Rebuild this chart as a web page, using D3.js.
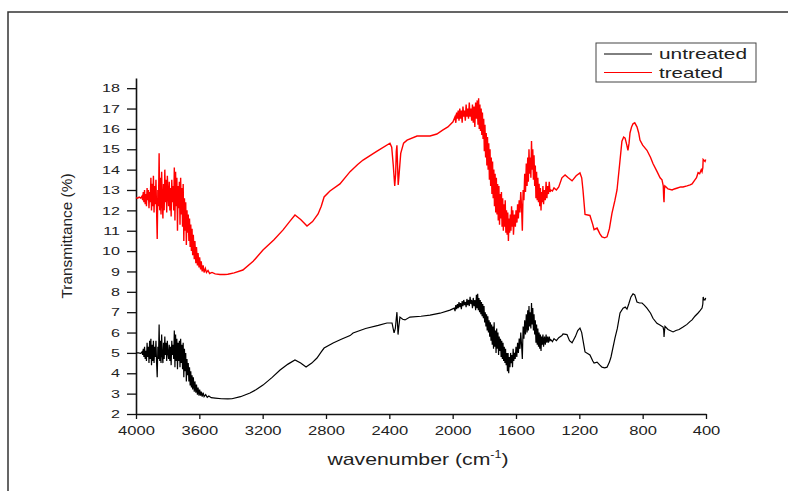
<!DOCTYPE html>
<html>
<head>
<meta charset="utf-8">
<script src="https://cdn.jsdelivr.net/npm/d3@7"></script>
<style>
  body { margin: 0; background: #fff; }
  text { font-family: "Liberation Sans", Arial, sans-serif; fill: #222; }
</style>
</head>
<body>
<svg class="ftir" width="788" height="491"></svg>
<script>
// tick values
const xTicks = [4000, 3600, 3200, 2800, 2400, 2000, 1600, 1200, 800, 400]
const yTicks = [2, 3, 4, 5, 6, 7, 8, 9, 10, 11, 12, 13, 14, 15, 16, 17, 18]
const seriesNames = ["untreated", "treated"]
const seriesColors = ["#000000", "#ff0000"]

// [wavenumber, transmittance]
const treated = [
  [4000,12.62],[3990,12.6],[3980,12.65],[3970,12.6],[3962,12.7],[3958,12.5],[3954,12.9],[3950,12.4],
  [3946,13.0],[3942,12.3],[3938,12.8],[3934,12.2],[3930,13.1],[3926,12.5],[3922,13.0],[3918,12.1],
  [3914,12.9],[3910,12.4],[3906,13.6],[3902,12.0],[3898,13.3],[3894,12.2],[3890,13.7],[3886,11.9],
  [3882,13.2],[3878,12.3],[3874,13.5],[3870,12.0],[3866,10.6],[3862,13.0],[3858,12.2],[3854,14.8],
  [3850,12.0],[3846,13.6],[3842,11.8],[3838,13.9],[3834,12.5],[3830,11.6],[3826,13.3],[3822,12.0],
  [3818,14.0],[3814,12.4],[3810,13.5],[3806,11.9],[3802,13.7],[3798,12.8],[3794,12.2],[3790,13.4],
  [3786,12.0],[3782,13.1],[3778,11.7],[3774,13.5],[3770,12.4],[3766,13.2],[3762,12.0],[3758,14.1],
  [3754,11.5],[3750,13.9],[3746,12.2],[3742,13.6],[3738,11.0],[3734,13.2],[3730,12.1],[3726,13.4],
  [3722,11.3],[3718,13.6],[3714,11.8],[3710,13.1],[3706,11.2],[3702,13.3],[3698,10.5],[3694,12.6],
  [3690,11.0],[3686,12.4],[3682,10.3],[3678,12.0],[3674,10.9],[3670,11.8],[3666,10.5],[3662,11.6],
  [3658,10.2],[3654,11.3],[3650,10.0],[3646,11.1],[3642,9.8],[3638,10.8],[3632,9.6],[3628,10.5],
  [3622,9.4],[3618,10.2],[3612,9.3],[3608,9.9],[3602,9.2],[3598,9.7],[3592,9.1],[3588,9.5],
  [3582,9.0],[3576,9.3],[3570,8.95],[3562,9.15],[3555,8.95],[3545,9.05],[3535,8.9],[3520,8.95],
  [3500,8.88],[3470,8.85],[3440,8.85],[3420,8.86],[3380,8.93],[3325,9.07],[3260,9.5],[3198,10.05],
  [3130,10.55],[3071,11.04],[3030,11.45],[2996,11.77],[2960,11.55],[2920,11.23],[2885,11.45],[2850,11.82],
  [2830,12.2],[2812,12.66],[2775,12.95],[2712,13.3],[2648,13.9],[2600,14.25],[2566,14.47],[2480,14.9],
  [2396,15.3],[2385,15.1],[2375,14.2],[2366,13.2],[2360,13.8],[2356,14.9],[2352,15.2],[2348,14.2],
  [2344,13.25],[2340,13.6],[2334,14.2],[2328,14.8],[2310,15.3],[2288,15.45],[2225,15.65],[2143,15.65],
  [2100,15.75],[2061,15.95],[2030,16.1],[1998,16.35],[1985,16.6],[1980,16.3],[1975,16.8],[1970,16.5],
  [1965,16.9],[1960,16.4],[1955,17.0],[1950,16.5],[1945,16.9],[1940,16.3],[1935,17.1],[1930,16.6],
  [1925,16.9],[1920,16.4],[1915,17.2],[1910,16.6],[1905,17.0],[1900,16.5],[1895,17.3],[1890,16.6],
  [1885,17.0],[1880,16.4],[1875,17.2],[1870,16.3],[1865,17.1],[1860,16.1],[1855,17.3],[1850,16.5],
  [1845,17.4],[1840,16.2],[1836,17.5],[1832,16.0],[1828,17.2],[1824,15.9],[1820,17.0],[1816,15.7],
  [1812,16.8],[1808,15.5],[1804,16.5],[1800,14.9],[1796,16.2],[1792,14.6],[1788,15.8],[1784,14.2],
  [1780,15.6],[1776,14.0],[1772,15.3],[1768,13.5],[1764,15.0],[1760,13.2],[1756,14.6],[1752,12.8],
  [1748,14.4],[1744,12.6],[1740,14.0],[1736,12.2],[1732,13.8],[1728,11.9],[1724,13.6],[1720,11.8],
  [1716,13.3],[1712,11.5],[1708,13.2],[1704,11.3],[1700,12.8],[1696,11.6],[1692,12.9],[1688,11.2],
  [1684,12.6],[1680,11.0],[1676,12.3],[1672,11.2],[1668,12.5],[1664,10.9],[1660,12.0],[1656,10.8],
  [1652,11.9],[1648,10.5],[1644,11.6],[1640,10.9],[1636,11.8],[1632,11.0],[1628,12.2],[1624,11.2],
  [1620,12.0],[1616,10.8],[1610,11.8],[1604,11.2],[1600,12.0],[1594,11.4],[1590,12.3],[1585,11.6],
  [1580,12.5],[1575,11.9],[1570,12.9],[1565,12.2],[1560,11.0],[1555,13.0],[1550,12.5],[1545,13.8],
  [1540,12.9],[1535,14.3],[1530,13.2],[1526,14.6],[1522,13.4],[1518,15.0],[1514,13.8],[1510,14.6],
  [1506,13.6],[1502,15.4],[1498,14.0],[1494,15.0],[1490,13.5],[1486,14.7],[1482,13.2],[1478,14.2],
  [1474,12.6],[1470,13.9],[1466,12.5],[1462,13.6],[1458,12.4],[1454,13.3],[1450,12.2],[1446,13.1],
  [1442,12.0],[1438,12.9],[1434,12.4],[1430,13.2],[1426,12.3],[1420,13.0],[1415,12.5],[1410,13.4],
  [1405,12.6],[1400,13.2],[1395,12.8],[1390,13.4],[1385,12.9],[1380,13.0],[1370,12.95],[1360,13.1],
  [1345,13.0],[1330,13.15],[1310,13.6],[1290,13.74],[1270,13.6],[1246,13.45],[1220,13.7],[1196,13.84],
  [1185,13.6],[1177,13.0],[1164,11.8],[1133,11.75],[1115,11.3],[1107,11.05],[1088,11.13],[1070,10.85],
  [1057,10.7],[1040,10.65],[1025,10.7],[1010,11.1],[994,11.85],[975,12.5],[962,13.0],[945,14.3],
  [931,15.4],[920,15.6],[911,15.55],[900,15.2],[893,14.95],[886,15.3],[880,15.8],[870,16.1],
  [861,16.25],[850,16.3],[836,16.1],[825,15.8],[817,15.45],[800,15.2],[773,14.95],[750,14.6],
  [735,14.3],[709,13.9],[690,13.6],[678,13.5],[670,13.2],[667,12.6],[665,12.4],[663,13.0],
  [660,13.2],[652,13.15],[640,13.05],[614,13.0],[600,13.05],[580,13.1],[560,13.15],[545,13.15],
  [520,13.2],[500,13.25],[488,13.3],[470,13.5],[460,13.6],[450,13.85],[440,13.8],[430,14.0],
  [425,13.9],[420,14.1],[418,14.5],[412,14.45],[406,14.4],[402,14.5]
]

const untreated = [
  [4000,5.0],[3985,5.0],[3970,4.98],[3962,5.05],[3958,4.9],[3954,5.2],[3950,4.8],[3946,5.3],
  [3942,4.7],[3938,5.1],[3934,4.6],[3930,5.5],[3926,4.8],[3922,5.3],[3918,4.5],[3914,5.6],
  [3910,4.7],[3906,5.7],[3902,4.4],[3898,5.4],[3894,4.6],[3890,5.6],[3886,4.5],[3882,5.3],
  [3878,4.8],[3874,5.6],[3870,4.5],[3866,3.8],[3862,5.3],[3858,4.7],[3854,6.4],[3850,4.6],
  [3846,5.6],[3842,4.5],[3838,5.9],[3834,4.9],[3830,4.5],[3826,5.5],[3822,4.7],[3818,5.8],
  [3814,4.9],[3810,5.5],[3806,4.6],[3802,5.6],[3798,5.0],[3794,4.7],[3790,5.4],[3786,4.6],
  [3782,5.3],[3778,4.4],[3774,5.6],[3770,4.9],[3766,5.4],[3762,4.7],[3758,6.1],[3754,4.3],
  [3750,5.9],[3746,4.6],[3742,5.7],[3738,4.2],[3734,5.5],[3730,4.6],[3726,5.6],[3722,4.3],
  [3718,5.7],[3714,4.5],[3710,5.4],[3706,4.2],[3702,5.5],[3698,3.8],[3694,5.2],[3690,4.1],
  [3686,5.0],[3682,3.6],[3678,4.7],[3674,3.9],[3670,4.5],[3666,3.6],[3662,4.3],[3658,3.4],
  [3654,4.1],[3650,3.3],[3646,3.9],[3642,3.2],[3638,3.8],[3632,3.1],[3628,3.6],[3622,3.05],
  [3618,3.45],[3612,2.95],[3608,3.3],[3602,2.9],[3598,3.2],[3592,2.9],[3588,3.1],[3582,2.85],
  [3576,3.05],[3570,2.85],[3560,2.95],[3550,2.82],[3540,2.88],[3525,2.8],[3500,2.78],[3460,2.75],
  [3420,2.74],[3394,2.75],[3340,2.85],[3280,3.03],[3240,3.2],[3198,3.42],[3140,3.8],[3090,4.16],
  [3040,4.45],[2996,4.65],[2960,4.5],[2926,4.31],[2890,4.5],[2857,4.75],[2830,5.05],[2812,5.24],
  [2755,5.49],[2700,5.68],[2648,5.85],[2629,5.98],[2550,6.2],[2470,6.35],[2415,6.47],[2383,6.47],
  [2376,6.2],[2370,5.98],[2362,6.2],[2356,6.7],[2352,7.0],[2348,6.4],[2345,5.9],[2340,6.3],
  [2333,6.76],[2316,6.65],[2301,6.62],[2270,6.76],[2200,6.8],[2143,6.86],[2080,6.95],[2017,7.1],
  [1990,7.2],[1985,7.05],[1980,7.35],[1975,7.15],[1970,7.4],[1965,7.2],[1960,7.5],[1955,7.25],
  [1950,7.45],[1945,7.15],[1940,7.55],[1935,7.3],[1930,7.6],[1925,7.35],[1920,7.5],[1915,7.25],
  [1910,7.65],[1905,7.35],[1900,7.6],[1895,7.3],[1890,7.75],[1885,7.4],[1880,7.6],[1875,7.2],
  [1870,7.7],[1865,7.3],[1860,7.6],[1855,7.1],[1850,7.85],[1846,7.2],[1842,7.9],[1838,7.1],
  [1834,7.7],[1830,7.0],[1826,7.6],[1822,6.9],[1818,7.5],[1814,6.8],[1810,7.4],[1806,6.7],
  [1802,7.3],[1798,6.5],[1794,7.0],[1790,6.3],[1786,6.9],[1782,6.1],[1778,6.8],[1774,6.0],
  [1770,6.6],[1766,5.8],[1762,6.5],[1758,5.6],[1754,6.4],[1750,5.4],[1746,6.3],[1742,5.2],
  [1738,6.5],[1734,5.3],[1730,6.1],[1726,5.0],[1722,6.2],[1718,5.2],[1714,6.0],[1710,4.9],
  [1706,5.8],[1702,5.1],[1698,5.7],[1694,4.8],[1690,5.6],[1686,4.7],[1682,5.5],[1678,4.6],
  [1674,5.3],[1670,4.5],[1666,5.2],[1662,4.4],[1658,5.0],[1654,4.1],[1650,5.0],[1646,4.0],
  [1642,4.8],[1638,4.3],[1634,5.0],[1630,4.5],[1626,4.9],[1622,4.3],[1618,5.2],[1614,4.6],
  [1610,5.0],[1605,4.7],[1600,5.3],[1595,4.8],[1590,5.5],[1585,5.0],[1580,5.7],[1575,5.2],
  [1570,6.0],[1565,5.4],[1560,4.7],[1555,6.3],[1550,5.7],[1545,6.6],[1540,5.9],[1535,6.9],
  [1530,6.0],[1526,7.1],[1522,6.1],[1518,7.3],[1514,6.3],[1510,7.0],[1506,6.2],[1502,7.45],
  [1498,6.4],[1494,7.2],[1490,6.1],[1486,6.9],[1482,5.9],[1478,6.6],[1474,5.5],[1470,6.4],
  [1466,5.4],[1462,6.2],[1458,5.3],[1454,6.0],[1450,5.2],[1446,5.9],[1442,5.1],[1438,5.8],
  [1434,5.4],[1430,5.9],[1426,5.3],[1420,5.8],[1415,5.4],[1410,5.9],[1405,5.5],[1400,5.8],
  [1395,5.5],[1390,5.8],[1385,5.6],[1380,5.65],[1370,5.55],[1360,5.7],[1345,5.6],[1330,5.75],
  [1310,5.85],[1303,5.93],[1278,5.9],[1262,5.6],[1246,5.5],[1225,5.8],[1210,6.1],[1196,6.22],
  [1185,6.0],[1177,5.63],[1164,5.05],[1133,4.9],[1115,4.6],[1107,4.5],[1088,4.55],[1070,4.4],
  [1057,4.3],[1040,4.27],[1025,4.3],[1010,4.55],[1000,4.8],[975,5.73],[960,6.2],[943,6.96],
  [924,7.2],[910,7.25],[899,7.15],[888,7.4],[874,7.75],[861,7.9],[850,7.85],[836,7.5],
  [820,7.45],[804,7.45],[790,7.35],[773,7.2],[750,6.95],[735,6.7],[710,6.45],[691,6.37],
  [671,6.27],[667,6.1],[665,5.78],[663,6.0],[659,6.3],[640,6.15],[608,6.03],[590,6.1],
  [570,6.15],[545,6.27],[520,6.4],[500,6.55],[488,6.62],[470,6.8],[450,6.96],[440,7.05],
  [425,7.2],[420,7.4],[418,7.75],[412,7.6],[406,7.6],[402,7.7]
]

function drawSpectrum(){
    let svg = d3.select('.ftir')

    // page frame (clipped figure border)
    svg.append("path")
        .attr("d", "M8,491 L8,12 L788,12")
        .attr("fill", "none")
        .attr("stroke", "#333")
        .attr("stroke-width", 1.5)

    let x = d3.scaleLinear()
                .domain([4000, 400])
                .range([136, 706])

    let y = d3.scaleLinear()
                .domain([2, 18.5])
                .range([414, 78])

    let line = d3.line()
                .x(function(d){ return x(d[0]) })
                .y(function(d){ return y(d[1]) })

    let xAxis = svg.append("g")
                .attr("transform", "translate(0,414)")
                .call(d3.axisBottom(x).tickValues(xTicks).tickFormat(d3.format("d"))
                        .tickSize(5).tickPadding(7).tickSizeOuter(0))
    xAxis.select(".domain").attr("stroke-width", 1.6)
    xAxis.selectAll(".tick line").attr("stroke-width", 1.3)
    xAxis.selectAll("text")
        .attr("font-size", 12)
        .attr("transform", "scale(1.38,1)")

    let yAxis = svg.append("g")
                .attr("transform", "translate(136,0)")
                .call(d3.axisLeft(y).tickValues(yTicks).tickFormat(d3.format("d"))
                        .tickSize(9).tickSizeOuter(0))
    yAxis.select(".domain").attr("stroke-width", 1.6)
    yAxis.selectAll(".tick line").attr("stroke-width", 1.3)
    yAxis.selectAll("text")
        .attr("font-size", 11.5)
        .attr("x", 0)
        .attr("transform", "translate(-16,0) scale(1.4,1)")
    svg.selectAll(".domain, .tick line").attr("stroke", "#111")
    svg.selectAll(".tick text").attr("fill", "#222")

    svg.append("path")
        .datum(untreated)
        .attr("d", line)
        .attr("fill", "none")
        .attr("stroke", seriesColors[0])
        .attr("stroke-width", 1.2)

    svg.append("path")
        .datum(treated)
        .attr("d", line)
        .attr("fill", "none")
        .attr("stroke", seriesColors[1])
        .attr("stroke-width", 1.4)

    // axis titles
    let xt = svg.append("text")
        .attr("transform", "translate(418,465) scale(1.25,1)")
        .attr("text-anchor", "middle")
        .attr("font-size", 17)
    xt.append("tspan").text("wavenumber (cm")
    xt.append("tspan").attr("font-size", 10).attr("dy", -7).text("-1")
    xt.append("tspan").attr("dy", 7).text(")")

    svg.append("text")
        .attr("transform", "translate(72,236) rotate(-90)")
        .attr("text-anchor", "middle")
        .attr("font-size", 14.5)
        .attr("textLength", 125)
        .attr("lengthAdjust", "spacingAndGlyphs")
        .text("Transmittance (%)")

    // legend
    let legend = svg.append("g")
    legend.append("rect")
        .attr("x", 596).attr("y", 43)
        .attr("width", 160).attr("height", 39)
        .attr("fill", "#fff")
        .attr("stroke", "#444")
        .attr("stroke-width", 1)
    seriesNames.forEach(function(name, i){
        let ly = 54 + i*18.5
        legend.append("line")
            .attr("x1", 604).attr("x2", 652)
            .attr("y1", ly).attr("y2", ly)
            .attr("stroke", seriesColors[i])
            .attr("stroke-width", 1)
        legend.append("text")
            .attr("x", 659).attr("y", ly + 5)
            .attr("font-size", 15)
            .attr("textLength", name == "untreated" ? 88 : 64)
            .attr("lengthAdjust", "spacingAndGlyphs")
            .text(name)
    })
}

drawSpectrum()
</script>
</body>
</html>
